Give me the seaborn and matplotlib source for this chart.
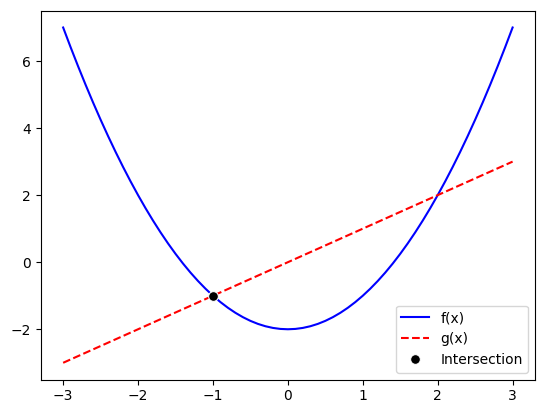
import matplotlib
matplotlib.use("Agg")
import matplotlib.pyplot as plt
import seaborn as sns

x_vals = [-3.0, -2.9, -2.8, -2.7, -2.6, -2.5, -2.4, -2.3, -2.2, -2.1,
          -2.0, -1.9, -1.8, -1.7, -1.6, -1.5, -1.4, -1.3, -1.2, -1.1,
          -1.0, -0.9, -0.8, -0.7, -0.6, -0.5, -0.4, -0.3, -0.2, -0.1,
          0.0, 0.1, 0.2, 0.3, 0.4, 0.5, 0.6, 0.7, 0.8, 0.9,
          1.0, 1.1, 1.2, 1.3, 1.4, 1.5, 1.6, 1.7, 1.8, 1.9,
          2.0, 2.1, 2.2, 2.3, 2.4, 2.5, 2.6, 2.7, 2.8, 2.9, 3.0]
f_vals = [7.0, 6.41, 5.84, 5.29, 4.76, 4.25, 3.76, 3.29, 2.84, 2.41,
          2.0, 1.61, 1.24, 0.89, 0.56, 0.25, -0.04, -0.31, -0.56, -0.79,
          -1.0, -1.19, -1.36, -1.51, -1.64, -1.75, -1.84, -1.91, -1.96, -1.99,
          -2.0, -1.99, -1.96, -1.91, -1.84, -1.75, -1.64, -1.51, -1.36, -1.19,
          -1.0, -0.79, -0.56, -0.31, -0.04, 0.25, 0.56, 0.89, 1.24, 1.61,
          2.0, 2.41, 2.84, 3.29, 3.76, 4.25, 4.76, 5.29, 5.84, 6.41, 7.0]
g_x = [-3.0, 3.0]
g_vals = [-3.0, 3.0]
cross_x = [-1.0]
cross_y = [-1.0]

fig, ax = plt.subplots(figsize=(5.46, 4.13), dpi=100)
fig.subplots_adjust(left=0.0745, right=0.980, top=0.974, bottom=0.081)

sns.lineplot(x=x_vals, y=f_vals, ax=ax, color="blue", label="f(x)", sort=False)
sns.lineplot(x=g_x, y=g_vals, ax=ax, color="red", linestyle="--", label="g(x)")
sns.lineplot(x=cross_x, y=cross_y, ax=ax, color="black", marker="o", markersize=7,
             linestyle="", label="Intersection", zorder=3)

ax.legend(loc="lower right")
fig.savefig("out.png", dpi=100)
